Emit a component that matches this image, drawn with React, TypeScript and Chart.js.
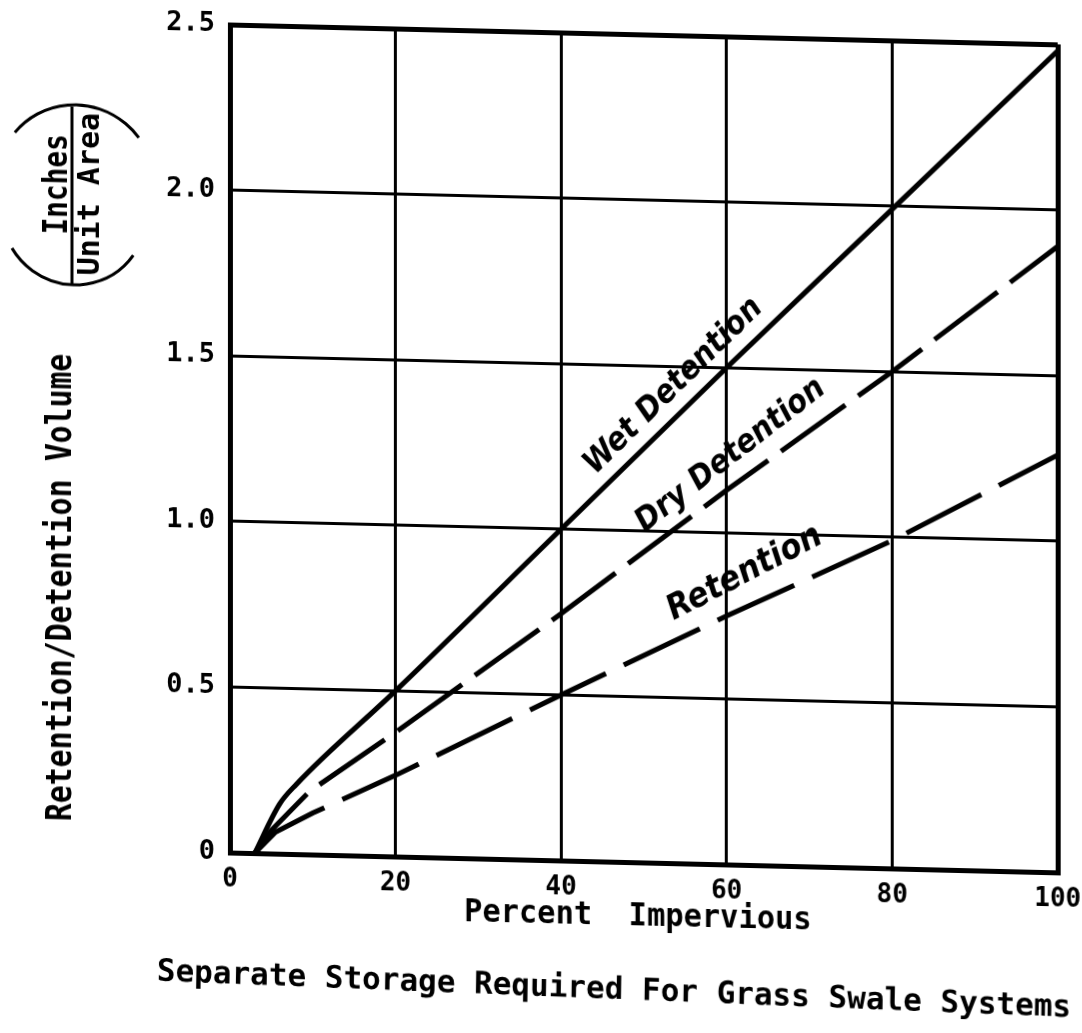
import React, { useEffect, useRef } from "react";
import { Chart, registerables } from "chart.js";

Chart.register(...registerables);

// ---- data ----
const xTicks = [0, 20, 40, 60, 80, 100];
const yTicks = [0, 0.5, 1.0, 1.5, 2.0, 2.5];

const wetX = [3, 6, 8, 20, 40, 60, 80, 100];
const wetY = [0, 0.15, 0.21, 0.5, 1.0, 1.5, 1.99, 2.48];

const dryX = [3, 5, 9.6, 20, 40, 60, 80, 100];
const dryY = [0, 0.07, 0.19, 0.375, 0.745, 1.13, 1.5, 1.89];

const retX = [3, 5.5, 10, 20, 40, 60, 80, 100];
const retY = [0, 0.065, 0.125, 0.245, 0.5, 0.75, 0.99, 1.26];

const seriesNames = ["Wet Detention", "Dry Detention", "Retention"];
const xTitle = "Percent  Impervious";
const yTitle = "Retention/Detention Volume";
const yUnitTop = "Inches";
const yUnitBottom = "Unit Area";
const caption = "Separate Storage Required For Grass Swale Systems";

const toPoints = (xs: number[], ys: number[]) => xs.map((x, i) => ({ x, y: ys[i] }));

const MONO = '"DejaVu Sans Mono", "Liberation Mono", monospace';
const SANS = '"DejaVu Sans", "Liberation Sans", sans-serif';

function drawText(
  ctx: CanvasRenderingContext2D,
  s: string,
  x: number,
  y: number,
  angle: number,
  font: string,
  sx: number,
  align: CanvasTextAlign = "center",
  baseline: CanvasTextBaseline = "alphabetic"
) {
  ctx.save();
  ctx.translate(x, y);
  ctx.rotate(angle);
  ctx.scale(sx, 1);
  ctx.font = font;
  ctx.fillStyle = "#000";
  ctx.textAlign = align;
  ctx.textBaseline = baseline;
  ctx.fillText(s, 0, 0);
  ctx.restore();
}

const decorPlugin = {
  id: "decor",
  afterDraw(chart: any) {
    const ctx: CanvasRenderingContext2D = chart.ctx;
    const xs = chart.scales.x;
    const ys = chart.scales.y;
    const deg = Math.PI / 180;

    // series labels along the curves
    const labels = [
      { t: seriesNames[0], x: 53.6, y: 1.44, a: -45.2, size: 32 },
      { t: seriesNames[1], x: 60.5, y: 1.235, a: -38.6, size: 32 },
      { t: seriesNames[2], x: 62.2, y: 0.88, a: -28.4, size: 34 },
    ];
    labels.forEach((l) => {
      drawText(
        ctx,
        l.t,
        xs.getPixelForValue(l.x),
        ys.getPixelForValue(l.y),
        l.a * deg,
        `italic bold ${l.size}px ${SANS}`,
        0.92,
        "center",
        "middle"
      );
    });

    // axis titles
    drawText(ctx, xTitle, 638, 910, 0, `bold 32px ${MONO}`, 0.95);
    drawText(ctx, caption, 614, 984, 0.9 * deg, `bold 31px ${MONO}`, 1.0);
    drawText(ctx, yTitle, 71, 586, -Math.PI / 2, `bold 36px ${MONO}`, 0.83);

    // units fraction in parentheses
    drawText(ctx, yUnitTop, 67, 183, -Math.PI / 2, `bold 33px ${MONO}`, 0.84);
    drawText(ctx, yUnitBottom, 99, 192, -Math.PI / 2, `bold 30px ${MONO}`, 1.0);
    ctx.save();
    ctx.strokeStyle = "#000";
    ctx.lineWidth = 3;
    ctx.beginPath();
    ctx.moveTo(72, 105);
    ctx.lineTo(72, 284);
    ctx.stroke();
    ctx.beginPath();
    ctx.arc(76, 181.7, 78.7, -141 * deg, -37 * deg);
    ctx.stroke();
    ctx.beginPath();
    ctx.arc(74, 210.6, 72.4, 35 * deg, 149 * deg);
    ctx.stroke();
    ctx.restore();
  },
};

export default function App() {
  const ref = useRef<HTMLCanvasElement | null>(null);

  useEffect(() => {
    if (!ref.current) return;
    const edgeWidth = (c: any) => (c.index === 0 || c.index === 5 ? 5 : 3);
    const chart = new Chart(ref.current, {
      type: "line",
      data: {
        datasets: [
          {
            label: seriesNames[0],
            data: toPoints(wetX, wetY),
            borderColor: "#000",
            borderWidth: 5,
            pointRadius: 0,
            cubicInterpolationMode: "monotone",
          },
          {
            label: seriesNames[1],
            data: toPoints(dryX, dryY),
            borderColor: "#000",
            borderWidth: 5,
            borderDash: [80, 16],
            pointRadius: 0,
            tension: 0,
          },
          {
            label: seriesNames[2],
            data: toPoints(retX, retY),
            borderColor: "#000",
            borderWidth: 5,
            borderDash: [85, 20],
            pointRadius: 0,
            tension: 0,
          },
        ],
      },
      options: {
        responsive: false,
        animation: false,
        devicePixelRatio: 1,
        layout: { padding: { top: 19, right: 24, left: 0, bottom: 0 } },
        plugins: { legend: { display: false }, tooltip: { enabled: false } },
        scales: {
          x: {
            type: "linear",
            min: 0,
            max: 100,
            afterBuildTicks: (s: any) => {
              s.ticks = xTicks.map((v) => ({ value: v }));
            },
            afterFit: (s: any) => {
              s.height = 186;
              s.paddingLeft = 0;
              s.paddingRight = 0;
            },
            grid: { color: "#000", lineWidth: edgeWidth, drawTicks: false },
            border: { color: "#000", width: 5 },
            ticks: {
              color: "#000",
              padding: 12,
              maxRotation: 0,
              font: { family: MONO, size: 26, weight: "bold" },
              callback: (v: any) => String(v),
            },
          },
          y: {
            type: "linear",
            min: 0,
            max: 2.5,
            afterBuildTicks: (s: any) => {
              s.ticks = yTicks.map((v) => ({ value: v }));
            },
            afterFit: (s: any) => {
              s.width = 230;
              s.paddingTop = 0;
              s.paddingBottom = 0;
            },
            grid: { color: "#000", lineWidth: edgeWidth, drawTicks: false },
            border: { color: "#000", width: 5 },
            ticks: {
              color: "#000",
              padding: 15,
              font: { family: MONO, size: 27, weight: "bold" },
              callback: (v: any) => (v === 0 ? "0" : Number(v).toFixed(1)),
            },
          },
        },
      },
      plugins: [decorPlugin],
    });
    return () => chart.destroy();
  }, []);

  return (
    <div style={{ position: "absolute", left: 0, top: 0, width: 1082, height: 1033, background: "#fff" }}>
      <canvas
        ref={ref}
        width={1082}
        height={1033}
        style={{
          display: "block",
          width: 1082,
          height: 1033,
          transform: "skewY(1.375deg)",
          transformOrigin: "0 0",
        }}
      />
    </div>
  );
}
